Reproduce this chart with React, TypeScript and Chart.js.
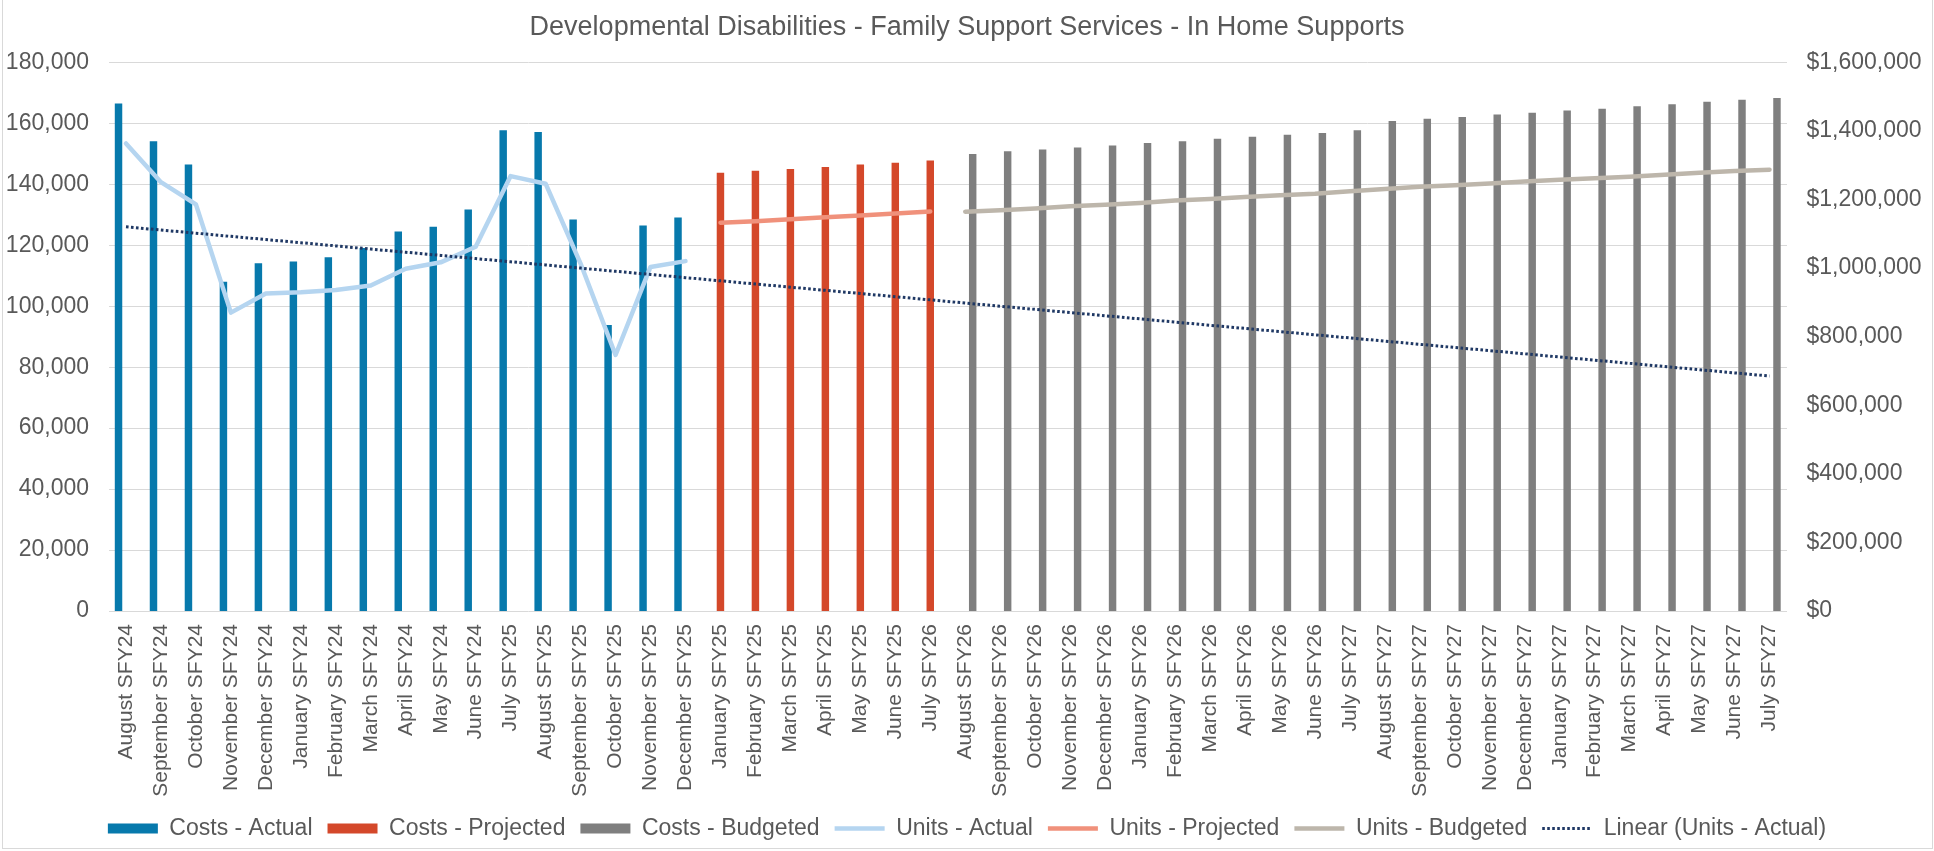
import React, { useEffect, useRef } from "react";
import { Chart, registerables } from "chart.js";

Chart.register(...registerables);

const TITLE = "Developmental Disabilities - Family Support Services - In Home Supports";

const labels: string[] = [
  "August SFY24", "September SFY24", "October SFY24", "November SFY24", "December SFY24",
  "January SFY24", "February SFY24", "March SFY24", "April SFY24", "May SFY24", "June SFY24",
  "July SFY25", "August SFY25", "September SFY25", "October SFY25", "November SFY25", "December SFY25",
  "January SFY25", "February SFY25", "March SFY25", "April SFY25", "May SFY25", "June SFY25", "July SFY26",
  "August SFY26", "September SFY26", "October SFY26", "November SFY26", "December SFY26",
  "January SFY26", "February SFY26", "March SFY26", "April SFY26", "May SFY26", "June SFY26",
  "July SFY27", "August SFY27", "September SFY27", "October SFY27", "November SFY27", "December SFY27",
  "January SFY27", "February SFY27", "March SFY27", "April SFY27", "May SFY27", "June SFY27", "July SFY27",
];

// Costs ($, right axis)
const costsActual: number[] = [
  1480000, 1370000, 1302000, 960000, 1014000, 1019000, 1032000, 1059000, 1107000,
  1121000, 1171000, 1402000, 1397000, 1142000, 834000, 1124000, 1148000,
];
const costsProjected: number[] = [1278000, 1284000, 1289000, 1295000, 1302000, 1307000, 1314000];
const costsBudgeted: number[] = [
  1333000, 1341000, 1346000, 1352000, 1358000, 1365000, 1370000, 1377000, 1383000, 1389000,
  1394000, 1402000, 1429000, 1436000, 1441000, 1448000, 1453000, 1460000, 1465000, 1472000,
  1478000, 1485000, 1491000, 1496000,
];

// Units (left axis)
const unitsActual: number[] = [
  153400, 140700, 133400, 97900, 104200, 104600, 105300, 106800, 112300,
  114400, 119500, 142700, 140200, 114000, 84000, 112900, 114800,
];
const unitsProjected: number[] = [127400, 127900, 128500, 129200, 129800, 130400, 131100];
const unitsBudgeted: number[] = [
  131000, 131500, 132100, 132800, 133300, 133900, 134700, 135200, 135800, 136400,
  136900, 137700, 138500, 139200, 139700, 140300, 140900, 141500, 142000, 142500,
  143100, 143800, 144400, 144800,
];

const actualStart = 0;
const projectedStart = costsActual.length;
const budgetedStart = costsActual.length + costsProjected.length;

const COLORS = {
  costsActual: "#0779AC",
  costsProjected: "#D4482A",
  costsBudgeted: "#7F7F7F",
  unitsActual: "#B5D5F0",
  unitsProjected: "#F0917B",
  unitsBudgeted: "#BDB6AB",
  trend: "#1F3864",
  text: "#595959",
  grid: "#D9D9D9",
};

const FONT = "Arial, 'Liberation Sans', sans-serif";

function place(values: number[], start: number): (number | null)[] {
  return labels.map((_, i) => (i >= start && i < start + values.length ? values[i - start] : null));
}

// Excel-style linear trendline (least squares) of Units - Actual over all categories
function linearTrend(values: number[], n: number): number[] {
  const m = values.length;
  let sx = 0, sy = 0, sxy = 0, sxx = 0;
  values.forEach((v, i) => {
    sx += i; sy += v; sxy += i * v; sxx += i * i;
  });
  const slope = (m * sxy - sx * sy) / (m * sxx - sx * sx);
  const intercept = (sy - slope * sx) / m;
  return Array.from({ length: n }, (_, i) => intercept + slope * i);
}

export default function App() {
  const canvasRef = useRef<HTMLCanvasElement | null>(null);

  useEffect(() => {
    document.body.style.margin = "0";
    document.body.style.overflow = "hidden";
    const canvas = canvasRef.current;
    if (!canvas) return;

    const barCommon = { yAxisID: "y1", order: 2, categoryPercentage: 0.64, barPercentage: 1.0, borderWidth: 0 };
    const lineCommon = {
      yAxisID: "y",
      order: 1,
      pointRadius: 0,
      pointHoverRadius: 0,
      borderWidth: 4.5,
      tension: 0,
      borderJoinStyle: "round" as const,
      borderCapStyle: "round" as const,
      spanGaps: false,
    };

    const chart = new Chart(canvas, {
      type: "bar",
      data: {
        labels,
        datasets: [
          { type: "bar", label: "Costs - Actual", data: place(costsActual, actualStart), backgroundColor: COLORS.costsActual, ...barCommon },
          { type: "bar", label: "Costs - Projected", data: place(costsProjected, projectedStart), backgroundColor: COLORS.costsProjected, ...barCommon },
          { type: "bar", label: "Costs - Budgeted", data: place(costsBudgeted, budgetedStart), backgroundColor: COLORS.costsBudgeted, ...barCommon },
          { type: "line", label: "Units - Actual", data: place(unitsActual, actualStart), borderColor: COLORS.unitsActual, backgroundColor: COLORS.unitsActual, ...lineCommon },
          { type: "line", label: "Units - Projected", data: place(unitsProjected, projectedStart), borderColor: COLORS.unitsProjected, backgroundColor: COLORS.unitsProjected, ...lineCommon },
          { type: "line", label: "Units - Budgeted", data: place(unitsBudgeted, budgetedStart), borderColor: COLORS.unitsBudgeted, backgroundColor: COLORS.unitsBudgeted, ...lineCommon },
          {
            type: "line",
            label: "Linear (Units - Actual)",
            data: linearTrend(unitsActual, labels.length),
            borderColor: COLORS.trend,
            backgroundColor: COLORS.trend,
            yAxisID: "y",
            order: 0,
            pointRadius: 0,
            pointHoverRadius: 0,
            borderWidth: 3,
            borderDash: [2.6, 2.4],
            borderCapStyle: "butt",
          },
        ] as any,
      },
      options: {
        animation: false,
        responsive: false,
        maintainAspectRatio: false,
        layout: { padding: { top: 0, left: 0, right: 0, bottom: 1 } },
        plugins: {
          title: {
            display: true,
            text: TITLE,
            color: COLORS.text,
            font: { size: 27, family: FONT, weight: "normal" },
            padding: { top: 11, bottom: 19 },
          },
          legend: {
            position: "bottom",
            labels: {
              usePointStyle: true,
              pointStyleWidth: 50,
              boxHeight: 10,
              padding: 15,
              color: COLORS.text,
              font: { size: 23, family: FONT },
              generateLabels: (ch: any) =>
                ch.data.datasets.map((ds: any, i: number) => {
                  const isBar = ds.type === "bar";
                  return {
                    text: ds.label,
                    datasetIndex: i,
                    hidden: false,
                    fillStyle: isBar ? ds.backgroundColor : "rgba(0,0,0,0)",
                    strokeStyle: ds.borderColor || ds.backgroundColor,
                    lineWidth: isBar ? 0 : ds.borderWidth,
                    lineDash: ds.borderDash || [],
                    lineCap: "butt",
                    pointStyle: isBar ? "rect" : "line",
                    fontColor: COLORS.text,
                  };
                }),
            },
          },
          tooltip: { enabled: false },
        },
        scales: {
          x: {
            grid: { display: false, drawTicks: false },
            border: { display: false },
            ticks: {
              autoSkip: false,
              maxRotation: 90,
              minRotation: 90,
              padding: 13,
              color: COLORS.text,
              font: { size: 21, family: FONT },
            },
            afterFit: (s: any) => {
              s.height = 191;
            },
          },
          y: {
            position: "left",
            min: 0,
            max: 180000,
            ticks: {
              stepSize: 20000,
              padding: 19.5,
              color: COLORS.text,
              font: { size: 23, family: FONT },
              callback: (v: any) => Number(v).toLocaleString("en-US"),
            },
            grid: { color: COLORS.grid, lineWidth: 1, drawTicks: false },
            border: { display: false },
            afterFit: (s: any) => {
              s.width = 108.5;
            },
          },
          y1: {
            position: "right",
            min: 0,
            max: 1600000,
            ticks: {
              stepSize: 200000,
              padding: 19.5,
              color: COLORS.text,
              font: { size: 23, family: FONT },
              callback: (v: any) => "$" + Number(v).toLocaleString("en-US"),
            },
            grid: { display: false, drawTicks: false },
            border: { display: false },
            afterFit: (s: any) => {
              s.width = 147;
            },
          },
        },
      } as any,
    });

    return () => chart.destroy();
  }, []);

  return (
    <div style={{ position: "relative", width: 1934, height: 851, background: "#ffffff" }}>
      <canvas ref={canvasRef} width={1934} height={851} style={{ display: "block", width: 1934, height: 851 }} />
      <div
        style={{
          position: "absolute",
          left: 2,
          top: 0,
          width: 1931,
          height: 849,
          boxSizing: "border-box",
          borderLeft: "1px solid #D9D9D9",
          borderRight: "1px solid #D9D9D9",
          borderBottom: "1px solid #D9D9D9",
          pointerEvents: "none",
        }}
      />
    </div>
  );
}
